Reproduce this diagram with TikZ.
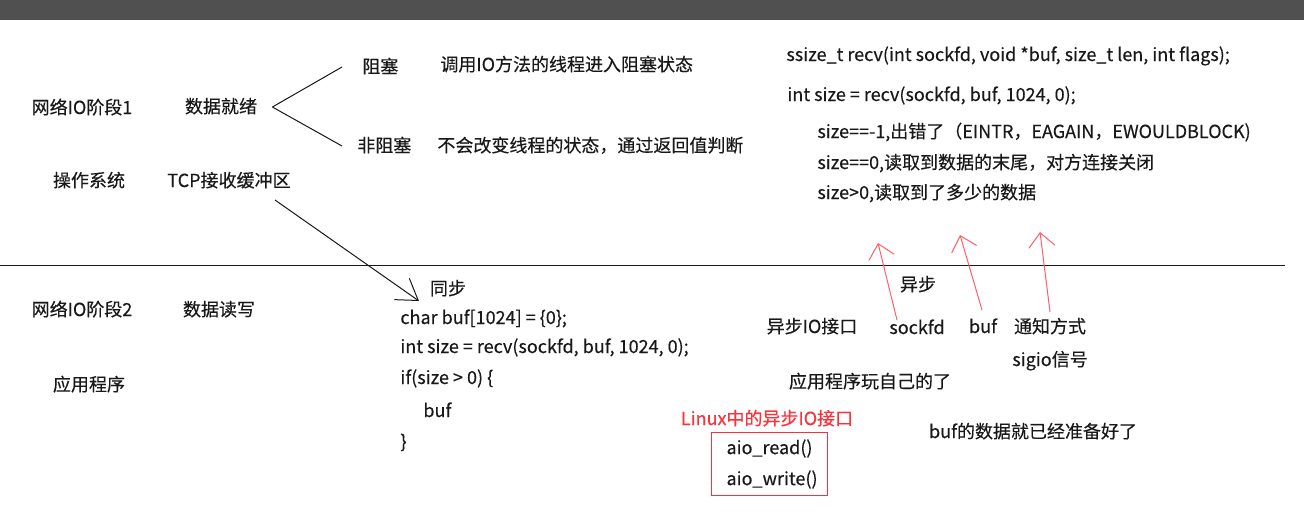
\documentclass[tikz,border=0pt]{standalone}
\usepackage{fontspec}
\setmainfont{Noto Sans CJK SC}[FakeBold=0.3]
\usetikzlibrary{arrows.meta,calc}
\definecolor{barcolor}{RGB}{80,80,80}
\definecolor{inkcolor}{RGB}{25,25,25}
\definecolor{markred}{RGB}{250,50,60}
\definecolor{penred}{RGB}{255,95,105}

\begin{document}
\begin{tikzpicture}[x=0.5pt, y=-0.5pt,
    txt/.style={inner sep=0pt, text height=0.8em, text depth=0.2em,
      font=\fontsize{9pt}{15.5pt}\selectfont, text=inkcolor},
    lt/.style={txt, anchor=west},
    pen/.style={draw=inkcolor, line width=0.5pt},
    redpen/.style={draw=penred, line width=0.5pt, -{Straight Barb[length=7pt,width=13pt]}}]
    % page and title bar
    \useasboundingbox (0,0) rectangle (1304,527);
    \fill[white] (0,0) rectangle (1304,527);
    \fill[barcolor] (0,0) rectangle (1304,20);
    % line between the two phases
    \draw[pen] (0,265) -- (1285,265);
    % phase 1: kernel side
    \node[txt] (phase1) at (82,108) {网络IO阶段1};
    \node[txt] (ready) at (221,107) {数据就绪};
    \node[lt] (block) at (362,67) {阻塞};
    \node[lt] (nonblock) at (357,146) {非阻塞};
    \node[lt] (blockdesc) at (440,65) {调用IO方法的线程进入阻塞状态};
    \node[lt] (nonblockdesc) at (437,146) {不会改变线程的状态，通过返回值判断};
    \node[txt] (os) at (89,181) {操作系统};
    \node[txt] (tcp) at (229,181) {TCP接收缓冲区};
    \draw[pen] ($(ready.east)+(15,0)$) -- ($(block.west)+(-20,0)$);
    \draw[pen] ($(ready.east)+(15,0)$) -- ($(nonblock.west)+(-15,0)$);
    % recv and its return values
    \node[lt] (recvsig) at (786,55) {ssize\_t recv(int sockfd, void *buf, size\_t len, int flags);};
    \node[lt] (recvcall) at (787,95) {int size = recv(sockfd, buf, 1024, 0);};
    \node[lt] (ret1) at (817,132) {size==-1,出错了（EINTR，EAGAIN，EWOULDBLOCK)};
    \node[lt] (ret2) at (817,163) {size==0,读取到数据的末尾，对方连接关闭};
    \node[lt] (ret3) at (817,193) {size>0,读取到了多少的数据};
    % phase 2: application side
    \node[txt] (phase2) at (82,310) {网络IO阶段2};
    \node[txt] (rw) at (219,310) {数据读写};
    \node[txt] (app) at (89,385) {应用程序};
    % synchronous read
    \node[txt] (sync) at (448,289) {同步};
    \node[lt] (code1) at (400,318) {char buf[1024] = \{0\};};
    \node[lt] (code2) at (400,347) {int size = recv(sockfd, buf, 1024, 0);};
    \node[lt] (code3) at (400,378) {if(size > 0) \{};
    \node[lt] (code4) at (423,411) {buf};
    \node[lt] (code5) at (400,442) {\}};
    \draw[pen, -{Straight Barb[length=10pt,width=13pt]}]
      ($(tcp.center)+(46,19)$) -- ($(sync.center)+(-29,12)$);
    % asynchronous interface
    \node[txt] (async) at (918,285) {异步};
    \node[txt] (aioif) at (812,327) {异步IO接口};
    \node[txt] (sockfd) at (917,328) {sockfd};
    \node[txt] (bufarg) at (983,327) {buf};
    \node[txt] (notify) at (1050,327) {通知方式};
    \node[txt] (sigio) at (1050,360) {sigio信号};
    \node[txt] (selfplay) at (870,382) {应用程序玩自己的了};
    \node[txt] (bufready) at (1033,432) {buf的数据就已经准备好了};
    \coordinate (tipA) at (878,243);
    \coordinate (tipB) at (960,235);
    \coordinate (tipC) at (1040,232);
    \draw[redpen] ($(sockfd.center)+(-20,-8)$) -- (tipA);
    \draw[redpen] ($(bufarg.center)+(-1,-17)$) -- (tipB);
    \draw[redpen] ($(notify.center)+(0,-15)$) -- (tipC);
    % linux aio calls
    \node[txt, text=markred] (linuxaio) at (767,419) {Linux中的异步IO接口};
    \node[draw=markred, line width=0.5pt, anchor=north west, align=left,
      inner xsep=7.5pt, inner ysep=0pt, text width=43pt, minimum height=31.5pt,
      font=\fontsize{9pt}{15.5pt}\selectfont, text=inkcolor]
      (aio) at (711,432) {aio\_read()\\aio\_write()};
\end{tikzpicture}
\end{document}
